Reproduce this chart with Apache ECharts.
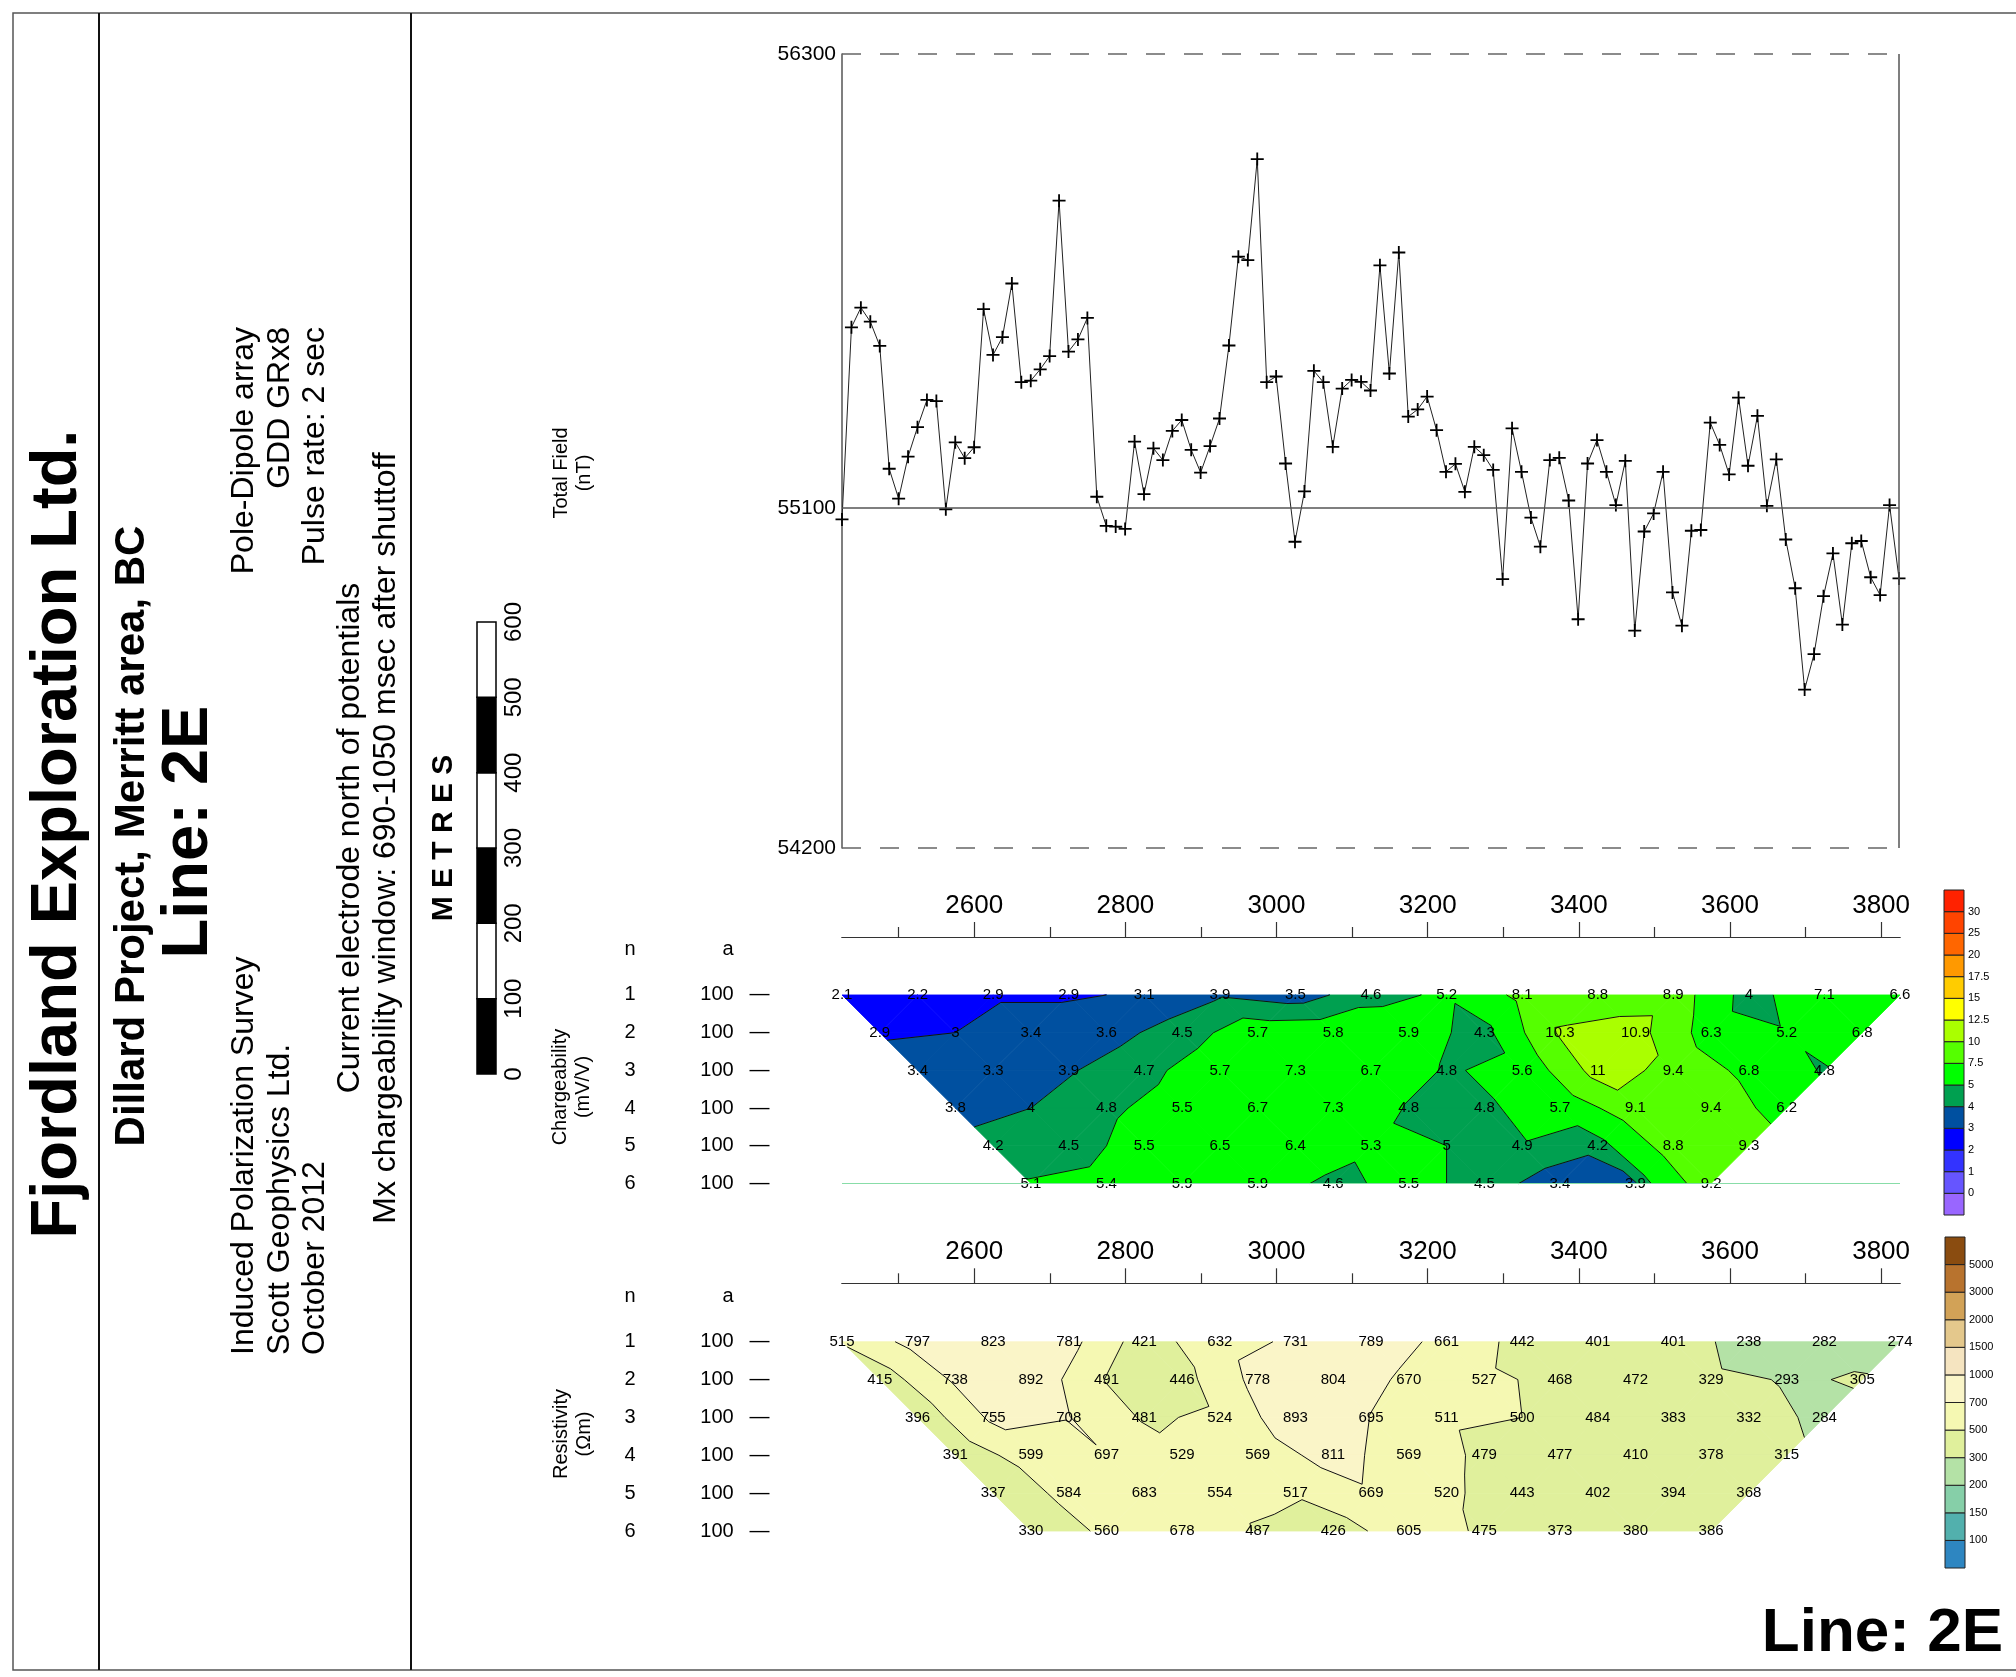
<!DOCTYPE html>
<html>
<head>
<meta charset="utf-8">
<title>Line 2E</title>
<script src="https://cdn.jsdelivr.net/npm/echarts@6/dist/echarts.min.js"></script>
<style>
html, body { margin: 0; padding: 0; background: #fff; }
#main { width: 2016px; height: 1677px; }
</style>
</head>
<body>
<div id="main"></div>
<script>
var FONT = '"Liberation Sans", Arial, sans-serif';

// total field (nT), one reading every 12.5 m from station 2425
var magStart = 2425, magStep = 12.5;
var magField = [
  55069, 55577, 55629, 55592, 55528, 55203, 55124, 55235, 55313, 55385,
  55382, 55096, 55273, 55231, 55260, 55625, 55504, 55551, 55693, 55432,
  55436, 55466, 55501, 55912, 55513, 55545, 55602, 55129, 55052, 55050,
  55044, 55275, 55136, 55257, 55226, 55303, 55332, 55253, 55193, 55263,
  55336, 55529, 55764, 55755, 56022, 55432, 55447, 55217, 55010, 55143,
  55462, 55432, 55261, 55415, 55438, 55433, 55410, 55741, 55455, 55775,
  55341, 55360, 55394, 55305, 55195, 55216, 55142, 55261, 55239, 55200,
  54911, 55310, 55195, 55074, 54997, 55226, 55232, 55119, 54805, 55217,
  55279, 55195, 55107, 55224, 54775, 55037, 55085, 55195, 54876, 54788,
  55039, 55041, 55325, 55266, 55188, 55391, 55211, 55343, 55105, 55228,
  55016, 54887, 54619, 54713, 54866, 54979, 54791, 55006, 55012, 54916,
  54869, 55107, 54913
];
var magTicks = [54200, 55100, 56300];

// pole-dipole pseudo-section, n = 1..6, a = 100 m
var sectionStart = 2425, sectionStep = 100, spacingA = 100;
var chargeRows = [
  [2.1, 2.2, 2.9, 2.9, 3.1, 3.9, 3.5, 4.6, 5.2, 8.1, 8.8, 8.9, 4, 7.1, 6.6],
  [2.9, 3, 3.4, 3.6, 4.5, 5.7, 5.8, 5.9, 4.3, 10.3, 10.9, 6.3, 5.2, 6.8],
  [3.4, 3.3, 3.9, 4.7, 5.7, 7.3, 6.7, 4.8, 5.6, 11, 9.4, 6.8, 4.8],
  [3.8, 4, 4.8, 5.5, 6.7, 7.3, 4.8, 4.8, 5.7, 9.1, 9.4, 6.2],
  [4.2, 4.5, 5.5, 6.5, 6.4, 5.3, 5, 4.9, 4.2, 8.8, 9.3],
  [5.1, 5.4, 5.9, 5.9, 4.6, 5.5, 4.5, 3.4, 3.9, 9.2]
];
var resRows = [
  [515, 797, 823, 781, 421, 632, 731, 789, 661, 442, 401, 401, 238, 282, 274],
  [415, 738, 892, 491, 446, 778, 804, 670, 527, 468, 472, 329, 293, 305],
  [396, 755, 708, 481, 524, 893, 695, 511, 500, 484, 383, 332, 284],
  [391, 599, 697, 529, 569, 811, 569, 479, 477, 410, 378, 315],
  [337, 584, 683, 554, 517, 669, 520, 443, 402, 394, 368],
  [330, 560, 678, 487, 426, 605, 475, 373, 380, 386]
];
var stationTicks = [2600, 2800, 3000, 3200, 3400, 3600, 3800];
var minorTicks = [2500, 2700, 2900, 3100, 3300, 3500, 3700];

// colour scales (bottom to top)
var chargeLevels = [0, 1, 2, 3, 4, 5, 7.5, 10, 12.5, 15, 17.5, 20, 25, 30];
var chargeColors = ['#9966ff', '#6655ff', '#3333ff', '#0000ff', '#0050a0', '#00a050', '#00ff00',
  '#55ff00', '#aaff00', '#ffff00', '#ffcc00', '#ff9900', '#ff6600', '#ff4400', '#ff2200'];
var resLevels = [100, 150, 200, 300, 500, 700, 1000, 1500, 2000, 3000, 5000];
var resColors = ['#2e86c1', '#52b0ad', '#86cfa8', '#b4e2a6', '#e0f09c', '#f5f8b2',
  '#faf5c8', '#f5e4c0', '#e4c88c', '#d2a257', '#b8732e', '#8a4c10'];
var scaleMarks = [0, 100, 200, 300, 400, 500, 600];

function rowPoints(rows) {
  var pts = [];
  rows.forEach(function (row, r) {
    row.forEach(function (v, k) {
      pts.push([sectionStart + 50 * r + sectionStep * k, r + 1, v]);
    });
  });
  return pts;
}

function rowTriangles(rows) {
  var tris = [];
  for (var r = 0; r < rows.length - 1; r++) {
    var up = rows[r], dn = rows[r + 1];
    var x0 = sectionStart + 50 * r, x1 = x0 + 50;
    for (var k = 0; k < dn.length; k++) {
      var a = [x0 + sectionStep * k, r + 1, up[k]];
      var b = [x0 + sectionStep * (k + 1), r + 1, up[k + 1]];
      var c = [x1 + sectionStep * k, r + 2, dn[k]];
      tris.push(a.concat(b, c));
      if (k < dn.length - 1) {
        var d = [x1 + sectionStep * (k + 1), r + 2, dn[k + 1]];
        tris.push(b.concat(c, d));
      }
    }
  }
  return tris;
}

function clip(poly, level, above) {
  var out = [];
  for (var i = 0; i < poly.length; i++) {
    var a = poly[i], b = poly[(i + 1) % poly.length];
    var ina = above ? a.v >= level : a.v <= level;
    var inb = above ? b.v >= level : b.v <= level;
    if (ina) out.push(a);
    if (ina !== inb) {
      var t = (level - a.v) / (b.v - a.v);
      out.push({x: a.x + t * (b.x - a.x), y: a.y + t * (b.y - a.y), v: level});
    }
  }
  return out;
}

function triCorners(api, tf) {
  var poly = [];
  for (var i = 0; i < 3; i++) {
    var p = api.coord([api.value(i * 3), api.value(i * 3 + 1)]);
    poly.push({x: p[0], y: p[1], v: tf(api.value(i * 3 + 2))});
  }
  return poly;
}

function bandRenderer(levels, colors, tf) {
  var cut = levels.map(function (l) { return tf(l) - 1e-7; });
  return function (params, api) {
    var poly = triCorners(api, tf);
    var children = [];
    for (var b = 0; b <= cut.length; b++) {
      var part = poly;
      if (b > 0) part = clip(part, cut[b - 1], true);
      if (b < cut.length && part.length) part = clip(part, cut[b], false);
      if (part.length < 3) continue;
      children.push({
        type: 'polygon',
        shape: {points: part.map(function (q) { return [q.x, q.y]; })},
        style: {fill: colors[b], stroke: colors[b], lineWidth: 0.8}
      });
    }
    return {type: 'group', children: children};
  };
}

function lineRenderer(levels, tf) {
  var cut = levels.map(function (l) { return tf(l) - 1e-7; });
  return function (params, api) {
    var poly = triCorners(api, tf);
    var children = [];
    cut.forEach(function (c) {
      var hits = [];
      for (var i = 0; i < 3; i++) {
        var a = poly[i], b = poly[(i + 1) % 3];
        if ((a.v - c) * (b.v - c) < 0) {
          var t = (c - a.v) / (b.v - a.v);
          hits.push([a.x + t * (b.x - a.x), a.y + t * (b.y - a.y)]);
        }
      }
      if (hits.length === 2) {
        children.push({
          type: 'line',
          shape: {x1: hits[0][0], y1: hits[0][1], x2: hits[1][0], y2: hits[1][1]},
          style: {stroke: '#111', lineWidth: 1}
        });
      }
    });
    return {type: 'group', children: children};
  };
}

function labelRenderer(params, api) {
  var p = api.coord([api.value(0), api.value(1)]);
  return {
    type: 'text', x: p[0], y: p[1],
    style: {text: String(api.value(2)), font: '15px ' + FONT, fill: '#000',
      align: 'center', verticalAlign: 'middle', textAlign: 'center', textVerticalAlign: 'middle'}
  };
}

function colourBarRenderer(colors) {
  return function (params, api) {
    var i = api.value(0);
    var p0 = api.coord([0, i]), p1 = api.coord([1, i + 1]);
    return {
      type: 'rect',
      shape: {x: p0[0], y: p1[1], width: p1[0] - p0[0], height: p0[1] - p1[1]},
      style: {fill: colors[i], stroke: '#222', lineWidth: 1}
    };
  };
}

function scaleRenderer(params, api) {
  var p0 = api.coord([0, api.value(0)]), p1 = api.coord([1, api.value(1)]);
  return {
    type: 'rect',
    shape: {x: p0[0], y: p1[1], width: p1[0] - p0[0], height: p0[1] - p1[1]},
    style: {fill: params.dataIndex % 2 === 0 ? '#000' : '#fff', stroke: '#000', lineWidth: 1.5}
  };
}

function ident(v) { return v; }
function plain(v) { return String(v); }

function rowLabel(v) {
  return v < 0 ? '{n|n}{ah|a}{d| }' : '{n|' + v + '}{a|' + spacingA + '}{d|\u2014}';
}
var rowRich = {
  n: {width: 110, align: 'center', fontSize: 20, fontFamily: FONT, color: '#000'},
  a: {width: 64, align: 'center', fontSize: 20, fontFamily: FONT, color: '#000'},
  ah: {width: 42, padding: [0, 0, 0, 22], align: 'center', fontSize: 20, fontFamily: FONT, color: '#000'},
  d: {width: 21, align: 'center', fontSize: 20, fontFamily: FONT, color: '#000'}
};

// station axis on top of a section; major ticks carry labels, minor ticks sit on a twin grid
function stationAxis(gridIndex, offset, ticks, tickLen, labels) {
  return {
    gridIndex: gridIndex, type: 'value', position: 'top', offset: offset,
    min: sectionStart, max: sectionStart + sectionStep * 14,
    axisLine: {show: true, onZero: false, lineStyle: {color: '#333', width: 1.2}},
    splitLine: {show: false},
    axisTick: {show: true, customValues: ticks, length: tickLen, lineStyle: {color: '#333', width: 1.2}},
    axisLabel: {show: labels, customValues: ticks, fontSize: 26, color: '#000', margin: 18,
      fontFamily: FONT, formatter: plain}
  };
}

function sectionYAxis(gridIndex) {
  return {
    gridIndex: gridIndex, type: 'value', inverse: true, min: -0.2, max: 6,
    axisLine: {show: false, onZero: false}, axisTick: {show: false}, splitLine: {show: false},
    axisLabel: {customValues: [-0.2, 1, 2, 3, 4, 5, 6], margin: 72, formatter: rowLabel, rich: rowRich}
  };
}

function hiddenY(gridIndex) {
  return {gridIndex: gridIndex, type: 'value', min: 0, max: 1, show: false};
}

function vtext(txt, x, y, size, bold, align) {
  return {
    type: 'text', x: x, y: y, rotation: Math.PI / 2,
    style: {text: txt, fill: '#000', font: (bold ? 'bold ' : '') + size + 'px ' + FONT,
      align: align || 'center', textAlign: align || 'center',
      verticalAlign: 'middle', textVerticalAlign: 'middle', lineHeight: size * 1.15}
  };
}

var chargeTris = rowTriangles(chargeRows), resTris = rowTriangles(resRows);
var chargePts = rowPoints(chargeRows), resPts = rowPoints(resRows);

var option = {
  backgroundColor: '#fff',
  animation: false,
  textStyle: {fontFamily: FONT},
  grid: [
    {left: 842, top: 54, width: 1057, height: 794, outerBoundsMode: 'none'},
    {left: 842, top: 949.7, width: 1058, height: 233.8, outerBoundsMode: 'none'},
    {left: 842, top: 1296.3, width: 1058, height: 234.7, outerBoundsMode: 'none'},
    {left: 1944, top: 890, width: 20, height: 325, outerBoundsMode: 'none'},
    {left: 1945, top: 1237, width: 20, height: 331, outerBoundsMode: 'none'},
    {left: 477, top: 622, width: 19, height: 452, outerBoundsMode: 'none'},
    {left: 842, top: 949.7, width: 1058, height: 233.8, outerBoundsMode: 'none'},
    {left: 842, top: 1296.3, width: 1058, height: 234.7, outerBoundsMode: 'none'}
  ],
  xAxis: [
    {gridIndex: 0, type: 'value', min: magStart, max: magStart + magStep * (magField.length - 1), show: false},
    stationAxis(1, 12.7, stationTicks, 15, true),
    stationAxis(2, 13, stationTicks, 15, true),
    {gridIndex: 3, type: 'value', min: 0, max: 1, show: false},
    {gridIndex: 4, type: 'value', min: 0, max: 1, show: false},
    {gridIndex: 5, type: 'value', min: 0, max: 1, show: false},
    stationAxis(6, 12.7, minorTicks, 10, false),
    stationAxis(7, 13, minorTicks, 10, false)
  ],
  yAxis: [
    {
      gridIndex: 0, type: 'value', min: 54200, max: 56300,
      axisLine: {show: true, onZero: false, lineStyle: {color: '#555', width: 1.5}},
      axisTick: {show: false}, splitLine: {show: false},
      axisLabel: {customValues: magTicks, fontSize: 21, color: '#000', margin: 6, fontFamily: FONT, formatter: plain}
    },
    sectionYAxis(1),
    sectionYAxis(2),
    {
      gridIndex: 3, type: 'value', min: 0, max: chargeColors.length, position: 'right',
      axisLine: {show: false}, axisTick: {show: false}, splitLine: {show: false},
      axisLabel: {customValues: chargeLevels.map(function (l, i) { return i + 1; }), margin: 4,
        fontSize: 11, color: '#000', fontFamily: FONT,
        formatter: function (v) { return String(chargeLevels[v - 1]); }}
    },
    {
      gridIndex: 4, type: 'value', min: 0, max: resColors.length, position: 'right',
      axisLine: {show: false}, axisTick: {show: false}, splitLine: {show: false},
      axisLabel: {customValues: resLevels.map(function (l, i) { return i + 1; }), margin: 4,
        fontSize: 11, color: '#000', fontFamily: FONT,
        formatter: function (v) { return String(resLevels[v - 1]); }}
    },
    {
      gridIndex: 5, type: 'value', min: 0, max: 600, position: 'right',
      axisLine: {show: false}, axisTick: {show: false}, splitLine: {show: false},
      axisLabel: {customValues: scaleMarks, rotate: 90, margin: 6, fontSize: 24, color: '#000',
        fontFamily: FONT, formatter: plain}
    },
    hiddenY(6),
    hiddenY(7)
  ],
  series: [
    {
      type: 'line', xAxisIndex: 0, yAxisIndex: 0,
      data: magField.map(function (v, i) { return [magStart + magStep * i, v]; }),
      symbol: 'path://M0,43H43V0H57V43H100V57H57V100H43V57H0Z', symbolSize: 13,
      itemStyle: {color: '#000'},
      lineStyle: {color: '#222', width: 1},
      markLine: {
        silent: true, symbol: 'none', label: {show: false},
        data: [
          {yAxis: 56300, lineStyle: {color: '#666', width: 1.5, type: [19, 19]}},
          {yAxis: 54200, lineStyle: {color: '#666', width: 1.5, type: [19, 19]}},
          {yAxis: 55100, lineStyle: {color: '#555', width: 1.5, type: 'solid'}},
          {xAxis: magStart + magStep * (magField.length - 1), lineStyle: {color: '#555', width: 1.5, type: 'solid'}}
        ]
      }
    },
    {
      type: 'custom', xAxisIndex: 1, yAxisIndex: 1, z: 2, clip: false,
      data: chargeTris, renderItem: bandRenderer(chargeLevels, chargeColors, ident),
      markLine: {
        silent: true, symbol: 'none', label: {show: false},
        lineStyle: {color: '#88dda8', width: 1.2, type: 'solid'},
        data: [{yAxis: 6}]
      }
    },
    {type: 'custom', xAxisIndex: 1, yAxisIndex: 1, z: 3, clip: false,
      data: chargeTris, renderItem: lineRenderer(chargeLevels, ident)},
    {type: 'custom', xAxisIndex: 1, yAxisIndex: 1, z: 4, clip: false,
      data: chargePts, renderItem: labelRenderer},
    {type: 'custom', xAxisIndex: 2, yAxisIndex: 2, z: 2, clip: false,
      data: resTris, renderItem: bandRenderer(resLevels, resColors, Math.log10)},
    {type: 'custom', xAxisIndex: 2, yAxisIndex: 2, z: 3, clip: false,
      data: resTris, renderItem: lineRenderer(resLevels, Math.log10)},
    {type: 'custom', xAxisIndex: 2, yAxisIndex: 2, z: 4, clip: false,
      data: resPts, renderItem: labelRenderer},
    {type: 'custom', xAxisIndex: 3, yAxisIndex: 3, clip: false,
      data: chargeColors.map(function (c, i) { return [i, 0]; }), renderItem: colourBarRenderer(chargeColors)},
    {type: 'custom', xAxisIndex: 4, yAxisIndex: 4, clip: false,
      data: resColors.map(function (c, i) { return [i, 0]; }), renderItem: colourBarRenderer(resColors)},
    {type: 'custom', xAxisIndex: 5, yAxisIndex: 5, clip: false,
      data: scaleMarks.slice(1).map(function (m, i) { return [scaleMarks[i], m]; }), renderItem: scaleRenderer}
  ],
  graphic: [
    {type: 'polyline', shape: {points: [[2016, 13], [13, 13], [13, 1670], [2016, 1670]]},
      style: {stroke: '#555', lineWidth: 1.5, fill: null}},
    {type: 'line', shape: {x1: 99, y1: 13, x2: 99, y2: 1670}, style: {stroke: '#111', lineWidth: 2}},
    {type: 'line', shape: {x1: 411, y1: 13, x2: 411, y2: 1670}, style: {stroke: '#111', lineWidth: 2}},
    vtext('Fjordland Exploration Ltd.', 58, 834, 65, true),
    vtext('Dillard Project, Merritt area, BC', 132, 836, 42, true),
    vtext('Line: 2E', 189, 832, 65, true),
    vtext('Pole-Dipole array', 244, 327, 32, false, 'right'),
    vtext('GDD GRx8', 280, 327, 32, false, 'right'),
    vtext('Pulse rate: 2 sec', 315, 327, 32, false, 'right'),
    vtext('Induced Polarization Survey', 244, 1355, 32, false, 'left'),
    vtext('Scott Geophysics Ltd.', 280, 1355, 32, false, 'left'),
    vtext('October 2012', 315, 1355, 32, false, 'left'),
    vtext('Current electrode north of potentials', 350, 838, 32, false),
    vtext('Mx chargeability window: 690-1050 msec after shuttoff', 386, 838, 32, false),
    vtext('M E T R E S', 444, 838, 30, true),
    vtext('Total Field\n(nT)', 573, 473, 20, false),
    vtext('Chargeability\n(mV/V)', 572, 1087, 20, false),
    vtext('Resistivity\n(\u03a9m)', 573, 1434, 20, false),
    {type: 'text', x: 2003, y: 1634,
      style: {text: 'Line: 2E', fill: '#000', font: 'bold 62px ' + FONT,
        align: 'right', textAlign: 'right', verticalAlign: 'middle', textVerticalAlign: 'middle'}}
  ]
};

var chart = echarts.init(document.getElementById('main'));
chart.setOption(option);
</script>
</body>
</html>
